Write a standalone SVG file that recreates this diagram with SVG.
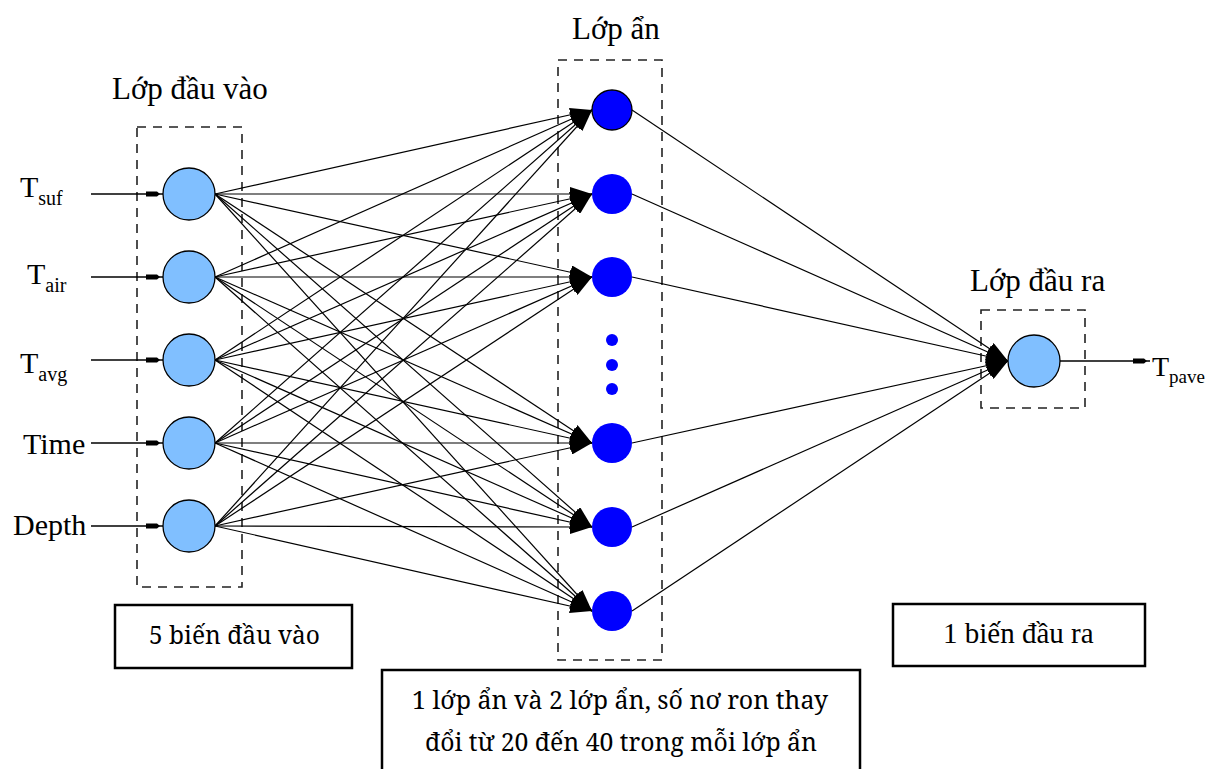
<svg xmlns="http://www.w3.org/2000/svg" width="1213" height="769" viewBox="0 0 1213 769">
<style>
.conn{stroke:#000;stroke-width:1.2;fill:none}
.inl{stroke:#000;stroke-width:1.4;fill:none}
.in{fill:#80BFFF;stroke:#000;stroke-width:1.3}
.hid{fill:#0000FF}
.dash{fill:none;stroke:#222;stroke-width:1.6;stroke-dasharray:9 7}
.box{fill:#fff;stroke:#000;stroke-width:2.5}
</style>
<defs>
<marker id="big" markerUnits="userSpaceOnUse" markerWidth="22" markerHeight="14" refX="22" refY="7" orient="auto"><path d="M0,0 L22,7 L0,14 z" fill="#000"/></marker>
<marker id="small" markerUnits="userSpaceOnUse" markerWidth="20" markerHeight="6" refX="20" refY="3" orient="auto"><path d="M3,0.5 L14,0.5 L17,3 L14,5.5 L3,5.5 z" fill="#000"/></marker>
</defs>
<rect width="1213" height="769" fill="#fff"/>

<g id="layer-boxes">
<rect class="dash" x="137" y="127" width="105" height="460"/>
<rect class="dash" x="558" y="60" width="104" height="600"/>
<rect class="dash" x="981" y="310" width="104" height="98"/>
<text font-family="Liberation Serif" font-size="31" x="112" y="99">Lớp đầu vào</text>
<text font-family="Liberation Serif" font-size="31" x="572" y="39">Lớp ẩn</text>
<text font-family="Liberation Serif" font-size="31" x="970" y="291">Lớp đầu ra</text>
</g>

<g id="connectors">
<g marker-end="url(#small)">
<line class="inl" x1="91" y1="194" x2="163" y2="194"/>
<line class="inl" x1="91" y1="277" x2="163" y2="277"/>
<line class="inl" x1="91" y1="360" x2="163" y2="360"/>
<line class="inl" x1="91" y1="443" x2="163" y2="443"/>
<line class="inl" x1="91" y1="526" x2="163" y2="526"/>
<line class="inl" x1="1060" y1="361" x2="1150" y2="361"/>
</g>
<g marker-end="url(#big)">
<line class="conn" x1="215" y1="194" x2="592" y2="110"/>
<line class="conn" x1="215" y1="194" x2="592" y2="194"/>
<line class="conn" x1="215" y1="194" x2="592" y2="277"/>
<line class="conn" x1="215" y1="194" x2="592" y2="443"/>
<line class="conn" x1="215" y1="194" x2="592" y2="527"/>
<line class="conn" x1="215" y1="194" x2="592" y2="611"/>
<line class="conn" x1="215" y1="277" x2="592" y2="110"/>
<line class="conn" x1="215" y1="277" x2="592" y2="194"/>
<line class="conn" x1="215" y1="277" x2="592" y2="277"/>
<line class="conn" x1="215" y1="277" x2="592" y2="443"/>
<line class="conn" x1="215" y1="277" x2="592" y2="527"/>
<line class="conn" x1="215" y1="277" x2="592" y2="611"/>
<line class="conn" x1="215" y1="360" x2="592" y2="110"/>
<line class="conn" x1="215" y1="360" x2="592" y2="194"/>
<line class="conn" x1="215" y1="360" x2="592" y2="277"/>
<line class="conn" x1="215" y1="360" x2="592" y2="443"/>
<line class="conn" x1="215" y1="360" x2="592" y2="527"/>
<line class="conn" x1="215" y1="360" x2="592" y2="611"/>
<line class="conn" x1="215" y1="443" x2="592" y2="110"/>
<line class="conn" x1="215" y1="443" x2="592" y2="194"/>
<line class="conn" x1="215" y1="443" x2="592" y2="277"/>
<line class="conn" x1="215" y1="443" x2="592" y2="443"/>
<line class="conn" x1="215" y1="443" x2="592" y2="527"/>
<line class="conn" x1="215" y1="443" x2="592" y2="611"/>
<line class="conn" x1="215" y1="526" x2="592" y2="110"/>
<line class="conn" x1="215" y1="526" x2="592" y2="194"/>
<line class="conn" x1="215" y1="526" x2="592" y2="277"/>
<line class="conn" x1="215" y1="526" x2="592" y2="443"/>
<line class="conn" x1="215" y1="526" x2="592" y2="527"/>
<line class="conn" x1="215" y1="526" x2="592" y2="611"/>
<line class="conn" x1="632" y1="110" x2="1008" y2="361"/>
<line class="conn" x1="632" y1="194" x2="1008" y2="361"/>
<line class="conn" x1="632" y1="277" x2="1008" y2="361"/>
<line class="conn" x1="632" y1="443" x2="1008" y2="361"/>
<line class="conn" x1="632" y1="527" x2="1008" y2="361"/>
<line class="conn" x1="632" y1="611" x2="1008" y2="361"/>
</g>
</g>

<g id="in-tsuf"><circle class="in" cx="189" cy="194" r="26"/><text font-family="Liberation Serif" font-size="30" x="20" y="197">T<tspan font-size="20" dy="8">suf</tspan></text></g>
<g id="in-tair"><circle class="in" cx="189" cy="277" r="26"/><text font-family="Liberation Serif" font-size="30" x="27" y="284">T<tspan font-size="20" dy="8">air</tspan></text></g>
<g id="in-tavg"><circle class="in" cx="189" cy="360" r="26"/><text font-family="Liberation Serif" font-size="30" x="20" y="373">T<tspan font-size="20" dy="8">avg</tspan></text></g>
<g id="in-time"><circle class="in" cx="189" cy="443" r="26"/><text font-family="Liberation Serif" font-size="30" x="23" y="454">Time</text></g>
<g id="in-depth"><circle class="in" cx="189" cy="526" r="26"/><text font-family="Liberation Serif" font-size="30" x="13" y="535">Depth</text></g>

<g id="h1"><circle class="hid" cx="612" cy="110" r="20" stroke="#000" stroke-width="1.3"/></g>
<g id="h2"><circle class="hid" cx="612" cy="194" r="20"/></g>
<g id="h3"><circle class="hid" cx="612" cy="277" r="20"/></g>
<g id="h-dots"><circle class="hid" cx="612" cy="340" r="6"/><circle class="hid" cx="612" cy="365" r="6"/><circle class="hid" cx="612" cy="389" r="6"/></g>
<g id="h4"><circle class="hid" cx="612" cy="443" r="20"/></g>
<g id="h5"><circle class="hid" cx="612" cy="527" r="20"/></g>
<g id="h6"><circle class="hid" cx="612" cy="611" r="20"/></g>

<g id="out"><circle class="in" cx="1034" cy="361" r="26"/><text font-family="Liberation Serif" font-size="28" x="1152" y="376">T<tspan font-size="19" dy="7">pave</tspan></text></g>

<g id="note-inputs"><rect class="box" x="115" y="605" width="237" height="63"/><text font-family="Noto Serif, serif" font-size="26" x="149" y="644" textLength="171" lengthAdjust="spacingAndGlyphs">5 biến đầu vào</text></g>
<g id="note-output"><rect class="box" x="893" y="604" width="252" height="62"/><text font-family="Liberation Serif" font-size="29" x="943" y="643">1 <tspan>biến</tspan> đầu ra</text></g>
<g id="note-hidden"><rect class="box" x="382" y="670" width="478" height="110"/><text font-family="Noto Serif, serif" font-size="26" x="412" y="709" textLength="416" lengthAdjust="spacingAndGlyphs">1 lớp ẩn và 2 lớp ẩn, số nơ ron thay</text><text font-family="Noto Serif, serif" font-size="26" x="425" y="751" textLength="392" lengthAdjust="spacingAndGlyphs">đổi từ 20 đến 40 trong mỗi lớp ẩn</text></g>
</svg>
